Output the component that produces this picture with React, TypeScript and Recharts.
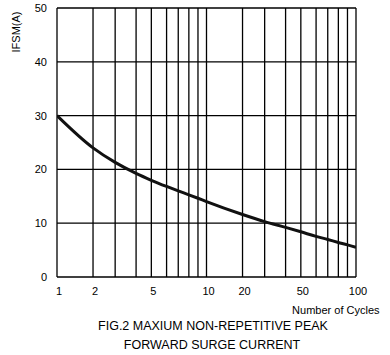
import React from 'react';
import { LineChart, Line, XAxis, YAxis, CartesianGrid } from 'recharts';

// ---- data ----
const cycles = [1, 2, 3, 4, 5, 6, 7, 8, 9, 10, 20, 30, 40, 50, 60, 70, 80, 90, 100];
const ifsmAmps = [30, 24.0, 21.3, 19.25, 17.98, 16.83, 16.0, 15.28, 14.64, 14.02, 11.62, 10.3, 9.22, 8.4, 7.55, 6.97, 6.42, 5.97, 5.5];
const xTickCycles = [1, 2, 3, 4, 5, 6, 7, 8, 9, 10, 20, 30, 40, 50, 60, 70, 80, 90, 100];
const xTickLabels = [1, 2, 5, 10, 20, 50, 100];
const yTicks = [0, 10, 20, 30, 40, 50];

// Axis geometry of the printed (hand-ruled) log paper: fraction of one decade
// at which the line for digit 1..10 sits.
const DECADE_FRACTION = [0, 0.241, 0.389, 0.529, 0.631, 0.733, 0.811, 0.882, 0.943, 1];

function axisPos(c: number): number {
  const decade = Math.floor(Math.log10(c) + 1e-9);
  const digit = Math.round(c / Math.pow(10, decade));
  return decade + DECADE_FRACTION[digit - 1];
}

const data = cycles.map((c, i) => ({ cycles: c, pos: axisPos(c), ifsm: ifsmAmps[i] }));
const xTickPositions = xTickCycles.map(axisPos);

function formatX(v: number): string {
  const idx = xTickPositions.findIndex((p) => Math.abs(p - v) < 1e-6);
  if (idx < 0) return '';
  const c = xTickCycles[idx];
  return xTickLabels.includes(c) ? String(c) : '';
}

const FONT = 'Arial, "Liberation Sans", sans-serif';

export default function App() {
  return (
    <div style={{ position: 'absolute', left: 0, top: 0, width: 390, height: 355, background: '#fff' }}>
      <LineChart
        width={390}
        height={355}
        data={data}
        margin={{ top: 8, right: 34, bottom: 48, left: 0 }}
      >
        <CartesianGrid stroke="#000" strokeWidth={1.3} />
        <XAxis
          dataKey="pos"
          type="number"
          domain={[0, 2]}
          ticks={xTickPositions}
          interval={0}
          tickFormatter={formatX}
          tickLine={false}
          axisLine={false}
          tickSize={0}
          tickMargin={10}
          height={30}
          tick={{ fill: '#000', fontSize: 11, fontFamily: FONT, dx: 2 }}
          allowDataOverflow
        />
        <YAxis
          type="number"
          domain={[0, 50]}
          ticks={yTicks}
          interval={0}
          tickLine={false}
          axisLine={false}
          tickSize={0}
          tickMargin={10}
          width={57}
          tick={{ fill: '#000', fontSize: 11, fontFamily: FONT }}
        />
        <Line
          dataKey="ifsm"
          type="monotone"
          stroke="#111"
          strokeWidth={3}
          dot={false}
          activeDot={false}
          isAnimationActive={false}
        />
      </LineChart>
      <svg
        width={390}
        height={355}
        style={{ position: 'absolute', left: 0, top: 0, pointerEvents: 'none' }}
      >
        <text
          x={20}
          y={32}
          transform="rotate(-90, 20, 32)"
          textAnchor="middle"
          fontSize={11}
          fontFamily={FONT}
          fill="#000"
        >
          IFSM(A)
        </text>
        <text x={379.5} y={314} textAnchor="end" fontSize={11} fontFamily={FONT} fill="#000">
          Number of Cycles
        </text>
        <text x={213} y={330} textAnchor="middle" fontSize={12.5} fontFamily={FONT} fill="#000">
          FIG.2 MAXIUM NON-REPETITIVE PEAK
        </text>
        <text x={212} y={348.5} textAnchor="middle" fontSize={12.5} fontFamily={FONT} fill="#000">
          FORWARD SURGE CURRENT
        </text>
      </svg>
    </div>
  );
}
